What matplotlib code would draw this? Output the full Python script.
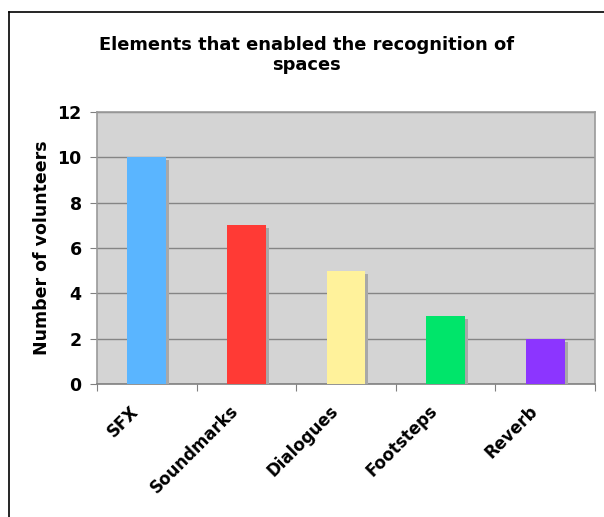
import matplotlib.pyplot as plt
import matplotlib.patheffects as pe
import matplotlib.transforms as mtransforms
from matplotlib.lines import Line2D
import numpy as np

categories = ['SFX', 'Soundmarks', 'Dialogues', 'Footsteps', 'Reverb']
volunteers = [10, 7, 5, 3, 2]
bar_colors = ['#5AB5FF', '#FF3A35', '#FFF29B', '#00E56A', '#8C35FF']

plt.rcParams['font.family'] = 'DejaVu Sans'

fig = plt.figure(figsize=(6.04, 5.17), dpi=100)
ax = fig.add_axes([0.1606, 0.2573, 0.8244, 0.5261])

x = np.arange(len(categories))
shadow = [pe.SimplePatchShadow(offset=(2.2, -2.2), shadow_rgbFace='#a8a8a8', alpha=1.0), pe.Normal()]
bars = ax.bar(x, volunteers, width=0.39, color=bar_colors, zorder=3)
for b in bars:
    b.set_path_effects(shadow)

ax.set_facecolor('#D4D4D4')
ax.set_xlim(-0.5, len(categories) - 0.5)
ax.set_ylim(0, 12)
ax.set_yticks(range(0, 13, 2))
ax.yaxis.grid(True, color='#858585', linewidth=1.0, zorder=1)
ax.set_axisbelow(True)

for side in ['top', 'right', 'left', 'bottom']:
    ax.spines[side].set_color('#9a9a9a')
    ax.spines[side].set_linewidth(1.2)
ax.spines['bottom'].set_color('#808080')

ax.set_xticks(np.arange(-0.5, len(categories), 1.0))
ax.set_xticklabels([])
ax.set_xticks(x, minor=True)
ax.set_xticklabels(categories, minor=True, rotation=45, ha='right',
                   rotation_mode='anchor', fontsize=12, fontweight='bold')
ax.tick_params(axis='x', which='minor', length=0, pad=13)
ax.tick_params(axis='x', which='major', length=5, color='#808080')
ax.tick_params(axis='y', length=5, color='#808080', labelsize=12.5, pad=6)
for lab in ax.get_yticklabels():
    lab.set_fontweight('bold')
# labels sit a bit left of the category centre
shift = mtransforms.ScaledTranslation(-17 / 100, 0, fig.dpi_scale_trans)
for lab in ax.get_xticklabels(minor=True):
    lab.set_transform(lab.get_transform() + shift)

ax.set_ylabel('Number of volunteers', fontsize=12.5, fontweight='bold', labelpad=5)

fig.text(0.508, 0.93, 'Elements that enabled the recognition of\nspaces',
         ha='center', va='top', fontsize=12.9, fontweight='bold', linespacing=1.12)

# page frame
fig.add_artist(Line2D([0.0142, 0.0142], [0.0, 0.977], transform=fig.transFigure, color='black', linewidth=1.2))
fig.add_artist(Line2D([0.0142, 1.0], [0.977, 0.977], transform=fig.transFigure, color='black', linewidth=1.2))

fig.savefig('out.png', dpi=100)
